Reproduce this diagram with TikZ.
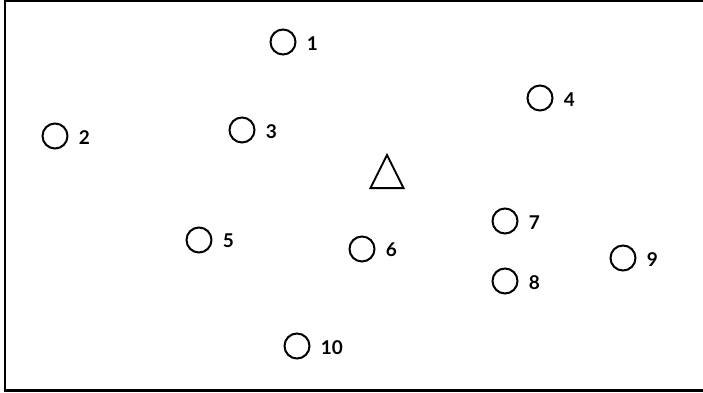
\documentclass[tikz,border=0pt]{standalone}
\usepackage{fontspec}
\setmainfont{Lato}
\usetikzlibrary{positioning}

\begin{document}
\begin{tikzpicture}[
  x=0.5pt, y=-0.5pt,
  punto/.style={draw, circle, line width=1pt, minimum size=12.5pt, inner sep=0pt},
  etiq/.style={font=\fontsize{9.5}{11}\selectfont\bfseries, inner sep=0pt, anchor=west, yshift=-0.6pt},
  node distance=5pt
]
\useasboundingbox (0,0) rectangle (703,392);
\draw[line width=1.2pt] (5,1) rectangle (706,390.5);

% puntos
\node[punto] (c1) at (283,42) {};
\node[punto] (c2) at (55,136) {};
\node[punto] (c3) at (242,130) {};
\node[punto] (c4) at (540,98) {};
\node[punto] (c5) at (199,240) {};
\node[punto] (c6) at (362,249) {};
\node[punto] (c7) at (505,221) {};
\node[punto] (c8) at (505,281) {};
\node[punto] (c9) at (623,258) {};
\node[punto] (c10) at (297,346) {};

% numeros
\foreach \i in {1,...,10}
  \node[etiq, right=5pt of c\i.east, anchor=west] (n\i) {\i};

% triangulo
\coordinate (tri) at (387,172);
\draw[line width=1pt] ([shift={(-16.5,16)}]tri) -- ([shift={(0,-17)}]tri) -- ([shift={(16.5,16)}]tri) -- cycle;
\end{tikzpicture}
\end{document}
